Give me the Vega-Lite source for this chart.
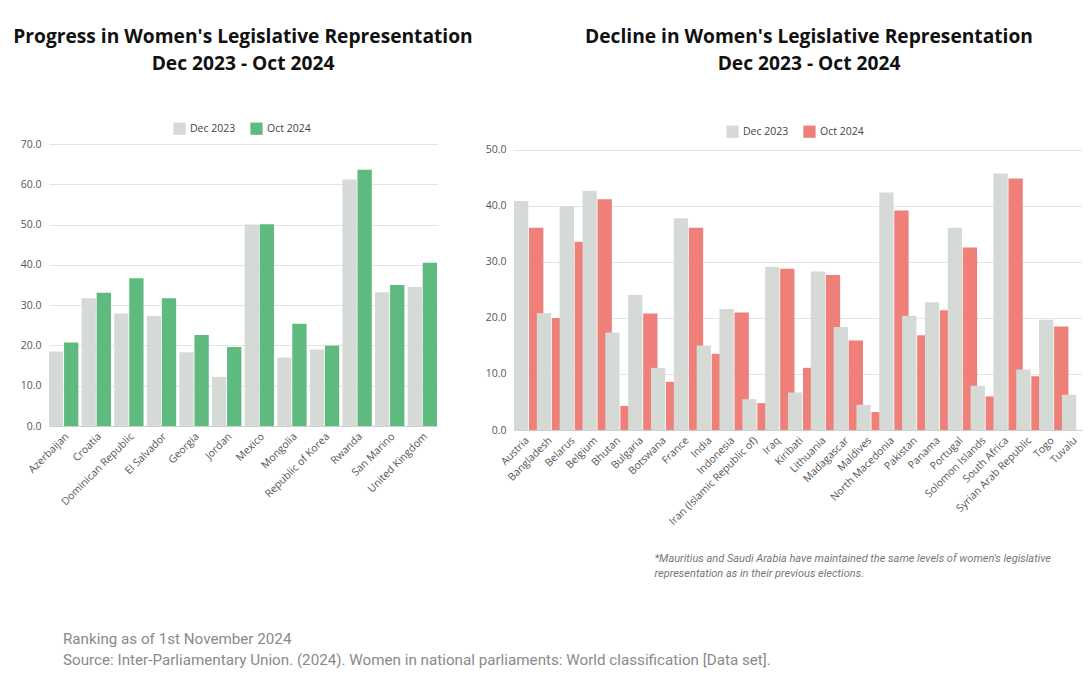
{
  "$schema": "https://vega.github.io/schema/vega-lite/v6.json",
  "background": "white",
  "padding": {"left": 13, "top": 27, "right": 5, "bottom": 10},
  "datasets": {
    "progress": [
      {"country": "Azerbaijan", "period": "Dec 2023", "value": 18.5},
      {"country": "Azerbaijan", "period": "Oct 2024", "value": 20.7},
      {"country": "Croatia", "period": "Dec 2023", "value": 31.7},
      {"country": "Croatia", "period": "Oct 2024", "value": 33.1},
      {"country": "Dominican Republic", "period": "Dec 2023", "value": 27.9},
      {"country": "Dominican Republic", "period": "Oct 2024", "value": 36.7},
      {"country": "El Salvador", "period": "Dec 2023", "value": 27.3},
      {"country": "El Salvador", "period": "Oct 2024", "value": 31.7},
      {"country": "Georgia", "period": "Dec 2023", "value": 18.3},
      {"country": "Georgia", "period": "Oct 2024", "value": 22.6},
      {"country": "Jordan", "period": "Dec 2023", "value": 12.2},
      {"country": "Jordan", "period": "Oct 2024", "value": 19.6},
      {"country": "Mexico", "period": "Dec 2023", "value": 50.0},
      {"country": "Mexico", "period": "Oct 2024", "value": 50.1},
      {"country": "Mongolia", "period": "Dec 2023", "value": 17.0},
      {"country": "Mongolia", "period": "Oct 2024", "value": 25.4},
      {"country": "Republic of Korea", "period": "Dec 2023", "value": 19.0},
      {"country": "Republic of Korea", "period": "Oct 2024", "value": 19.9},
      {"country": "Rwanda", "period": "Dec 2023", "value": 61.2},
      {"country": "Rwanda", "period": "Oct 2024", "value": 63.6},
      {"country": "San Marino", "period": "Dec 2023", "value": 33.2},
      {"country": "San Marino", "period": "Oct 2024", "value": 35.0},
      {"country": "United Kingdom", "period": "Dec 2023", "value": 34.5},
      {"country": "United Kingdom", "period": "Oct 2024", "value": 40.5}
    ],
    "decline": [
      {"country": "Austria", "period": "Dec 2023", "value": 40.9},
      {"country": "Austria", "period": "Oct 2024", "value": 36.1},
      {"country": "Bangladesh", "period": "Dec 2023", "value": 20.9},
      {"country": "Bangladesh", "period": "Oct 2024", "value": 20.0},
      {"country": "Belarus", "period": "Dec 2023", "value": 40.0},
      {"country": "Belarus", "period": "Oct 2024", "value": 33.6},
      {"country": "Belgium", "period": "Dec 2023", "value": 42.7},
      {"country": "Belgium", "period": "Oct 2024", "value": 41.2},
      {"country": "Bhutan", "period": "Dec 2023", "value": 17.4},
      {"country": "Bhutan", "period": "Oct 2024", "value": 4.3},
      {"country": "Bulgaria", "period": "Dec 2023", "value": 24.1},
      {"country": "Bulgaria", "period": "Oct 2024", "value": 20.8},
      {"country": "Botswana", "period": "Dec 2023", "value": 11.1},
      {"country": "Botswana", "period": "Oct 2024", "value": 8.6},
      {"country": "France", "period": "Dec 2023", "value": 37.8},
      {"country": "France", "period": "Oct 2024", "value": 36.1},
      {"country": "India", "period": "Dec 2023", "value": 15.1},
      {"country": "India", "period": "Oct 2024", "value": 13.6},
      {"country": "Indonesia", "period": "Dec 2023", "value": 21.6},
      {"country": "Indonesia", "period": "Oct 2024", "value": 21.0},
      {"country": "Iran (Islamic Republic of)", "period": "Dec 2023", "value": 5.5},
      {"country": "Iran (Islamic Republic of)", "period": "Oct 2024", "value": 4.8},
      {"country": "Iraq", "period": "Dec 2023", "value": 29.1},
      {"country": "Iraq", "period": "Oct 2024", "value": 28.8},
      {"country": "Kiribati", "period": "Dec 2023", "value": 6.7},
      {"country": "Kiribati", "period": "Oct 2024", "value": 11.1},
      {"country": "Lithuania", "period": "Dec 2023", "value": 28.3},
      {"country": "Lithuania", "period": "Oct 2024", "value": 27.7},
      {"country": "Madagascar", "period": "Dec 2023", "value": 18.4},
      {"country": "Madagascar", "period": "Oct 2024", "value": 16.0},
      {"country": "Maldives", "period": "Dec 2023", "value": 4.5},
      {"country": "Maldives", "period": "Oct 2024", "value": 3.2},
      {"country": "North Macedonia", "period": "Dec 2023", "value": 42.4},
      {"country": "North Macedonia", "period": "Oct 2024", "value": 39.2},
      {"country": "Pakistan", "period": "Dec 2023", "value": 20.4},
      {"country": "Pakistan", "period": "Oct 2024", "value": 16.9},
      {"country": "Panama", "period": "Dec 2023", "value": 22.8},
      {"country": "Panama", "period": "Oct 2024", "value": 21.4},
      {"country": "Portugal", "period": "Dec 2023", "value": 36.1},
      {"country": "Portugal", "period": "Oct 2024", "value": 32.6},
      {"country": "Solomon Islands", "period": "Dec 2023", "value": 7.9},
      {"country": "Solomon Islands", "period": "Oct 2024", "value": 6.0},
      {"country": "South Africa", "period": "Dec 2023", "value": 45.8},
      {"country": "South Africa", "period": "Oct 2024", "value": 44.9},
      {"country": "Syrian Arab Republic", "period": "Dec 2023", "value": 10.8},
      {"country": "Syrian Arab Republic", "period": "Oct 2024", "value": 9.6},
      {"country": "Togo", "period": "Dec 2023", "value": 19.7},
      {"country": "Togo", "period": "Oct 2024", "value": 18.5},
      {"country": "Tuvalu", "period": "Dec 2023", "value": 6.3},
      {"country": "Tuvalu", "period": "Oct 2024", "value": 0}
    ]
  },
  "title": {
    "text": ["Ranking as of 1st November 2024", "Source: Inter-Parliamentary Union. (2024). Women in national parliaments: World classification [Data set]."],
    "orient": "bottom",
    "anchor": "start",
    "frame": "group",
    "font": "Roboto",
    "fontSize": 15.2,
    "fontWeight": "normal",
    "color": "#8a8a8a",
    "lineHeight": 21,
    "offset": 54,
    "dx": 14
  },
  "bounds": "flush",
  "spacing": 77,
  "resolve": {"scale": {"color": "independent"}},
  "hconcat": [
    {
      "width": 388,
      "height": 282,
      "title": {"text": ["Progress in Women's Legislative Representation", "Dec 2023 - Oct 2024"]},
      "data": {"name": "progress"},
      "mark": {"type": "bar"},
      "encoding": {
        "x": {"field": "country", "type": "nominal", "sort": null, "scale": {"paddingInner": 0.1, "paddingOuter": 0}, "axis": {"title": null}},
        "xOffset": {"field": "period", "type": "nominal", "scale": {"paddingInner": 0.05}},
        "y": {"field": "value", "type": "quantitative", "scale": {"domain": [0, 70]}, "axis": {"title": null, "format": ".1f", "values": [0, 10, 20, 30, 40, 50, 60, 70]}},
        "color": {"field": "period", "type": "nominal", "scale": {"domain": ["Dec 2023", "Oct 2024"], "range": ["#D5DAD7", "#5EBA7E"]}, "legend": {"title": null, "orient": "none", "legendX": 124, "legendY": -22}}
      }
    },
    {
      "width": 568,
      "height": 286,
      "title": {"text": ["Decline in Women's Legislative Representation", "Dec 2023 - Oct 2024"], "offset": 51, "dx": 11},
      "data": {"name": "decline"},
      "mark": {"type": "bar"},
      "encoding": {
        "x": {"field": "country", "type": "nominal", "sort": null, "scale": {"paddingInner": 0.12, "paddingOuter": 0}, "axis": {
          "title": ["*Mauritius and Saudi Arabia have maintained the same levels of women's legislative", "representation as in their previous elections."],
          "titleFont": "Roboto", "titleFontStyle": "italic", "titleFontWeight": "normal", "titleFontSize": 11, "titleColor": "#777777",
          "titleAlign": "left", "titleBaseline": "top", "titleX": 140, "titleY": 122, "titleLineHeight": 15
        }},
        "xOffset": {"field": "period", "type": "nominal", "scale": {"paddingInner": 0.05}},
        "y": {"field": "value", "type": "quantitative", "scale": {"domain": [0, 51.07], "nice": false}, "axis": {"title": null, "format": ".1f", "values": [0, 10, 20, 30, 40, 50]}},
        "color": {"field": "period", "type": "nominal", "scale": {"domain": ["Dec 2023", "Oct 2024"], "range": ["#D5DAD7", "#EF7F79"]}, "legend": {"title": null, "orient": "none", "legendX": 212, "legendY": -19}}
      }
    }
  ],
  "config": {
    "view": {"stroke": null},
    "font": "Open Sans",
    "title": {"font": "Open Sans", "fontSize": 19.2, "fontWeight": "bold", "color": "#111111", "lineHeight": 27, "offset": 48, "anchor": "middle"},
    "axis": {"labelFont": "Open Sans", "labelFontSize": 10.5, "labelColor": "#555555", "ticks": false, "gridColor": "#e4e4e4", "domainColor": "#d0d0d0", "labelPadding": 6},
    "axisY": {"domain": false, "labelPadding": 8},
    "axisX": {"grid": false, "labelAngle": -45, "labelAlign": "right", "labelBaseline": "top", "labelPadding": 5},
    "legend": {"direction": "horizontal", "symbolType": "square", "symbolSize": 150, "symbolStrokeWidth": 0, "labelFont": "Open Sans", "labelFontSize": 10.5, "labelColor": "#444444", "columnPadding": 14}
  }
}
